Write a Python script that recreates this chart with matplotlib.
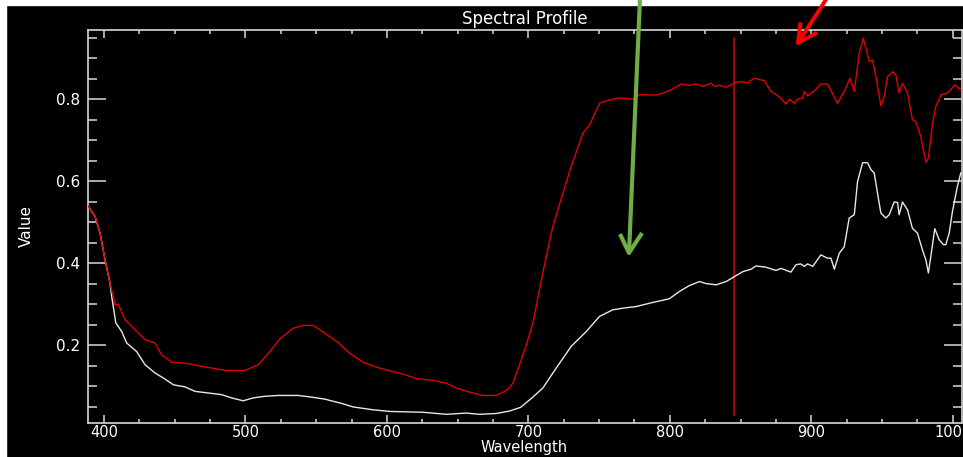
import matplotlib
matplotlib.use("Agg")
import matplotlib.pyplot as plt
from matplotlib.lines import Line2D
from matplotlib.ticker import MultipleLocator

# ---- data ----
red_wl = [388.5, 393.6, 397.2, 400.7, 404.2, 407.8, 410.1, 414.8, 421.9, 429.0,
          436.0, 440.7, 447.8, 457.2, 466.0, 476.0, 485.5, 499.6, 509.0, 517.2,
          524.3, 533.7, 540.8, 547.8, 556.0, 565.5, 573.7, 583.1, 592.6, 602.0,
          611.4, 620.8, 632.6, 642.0, 649.1, 658.5, 667.9, 677.3, 684.4, 689.1,
          694.5, 698.5, 703.2, 710.2, 717.3, 724.4, 730.3, 738.5, 743.2, 750.3,
          757.3, 764.4, 773.8, 778.5, 790.3, 796.2, 800.9, 808.0, 813.8, 818.5,
          823.2, 829.1, 831.5, 835.0, 839.8, 845.6, 849.2, 855.0, 859.7, 866.8,
          871.5, 877.4, 882.1, 884.5, 888.0, 890.3, 893.9, 895.1, 897.4, 902.1,
          906.8, 911.5, 918.6, 923.3, 927.3, 930.4, 933.9, 936.7, 939.8, 941.0,
          943.3, 946.1, 949.2, 951.6, 953.9, 957.5, 959.8, 962.1, 964.5, 968.0,
          971.5, 973.9, 977.4, 981.0, 982.8, 985.7, 988.0, 991.6, 996.2, 1001.5,
          1005.7]
red_val = [0.540, 0.514, 0.473, 0.408, 0.351, 0.298, 0.300, 0.262, 0.237, 0.213,
           0.205, 0.176, 0.158, 0.156, 0.150, 0.144, 0.138, 0.138, 0.152, 0.184,
           0.215, 0.241, 0.248, 0.248, 0.229, 0.206, 0.180, 0.158, 0.146, 0.137,
           0.129, 0.118, 0.114, 0.107, 0.095, 0.085, 0.077, 0.077, 0.089, 0.107,
           0.160, 0.200, 0.254, 0.376, 0.489, 0.571, 0.636, 0.717, 0.737, 0.790,
           0.798, 0.803, 0.800, 0.811, 0.810, 0.816, 0.823, 0.837, 0.834, 0.837,
           0.831, 0.839, 0.831, 0.834, 0.829, 0.839, 0.843, 0.840, 0.851, 0.845,
           0.819, 0.806, 0.788, 0.800, 0.790, 0.800, 0.802, 0.819, 0.808, 0.820,
           0.837, 0.837, 0.790, 0.819, 0.851, 0.819, 0.912, 0.949, 0.908, 0.892,
           0.896, 0.847, 0.784, 0.806, 0.855, 0.867, 0.859, 0.815, 0.839, 0.815,
           0.750, 0.745, 0.709, 0.646, 0.656, 0.741, 0.782, 0.810, 0.815, 0.835,
           0.823]

white_wl = [388.5, 393.6, 397.2, 400.7, 404.2, 405.4, 408.3, 412.5, 416.0, 423.1,
            429.0, 436.0, 443.1, 449.0, 457.2, 464.3, 473.7, 483.1, 490.2, 498.4,
            505.4, 513.7, 523.1, 537.2, 546.7, 556.1, 567.5, 576.1, 590.2, 602.0,
            625.5, 642.0, 656.1, 665.5, 677.3, 686.7, 694.5, 702.5, 710.2, 719.7,
            730.3, 740.9, 750.3, 759.7, 766.8, 776.2, 788.0, 799.7, 806.8, 813.8,
            820.9, 825.6, 832.7, 839.8, 845.6, 851.5, 857.4, 860.9, 868.0, 875.0,
            878.6, 885.6, 889.2, 892.5, 895.1, 897.4, 901.0, 906.8, 911.5, 913.9,
            916.3, 919.8, 923.3, 926.8, 930.4, 932.7, 936.3, 939.8, 942.2, 944.5,
            946.8, 949.2, 952.7, 955.1, 958.6, 961.0, 962.1, 964.5, 968.0, 971.5,
            975.1, 978.6, 981.0, 982.8, 984.5, 987.3, 990.4, 993.4, 995.1, 997.5,
            999.8, 1003.3, 1005.7]
white_val = [0.540, 0.514, 0.473, 0.408, 0.351, 0.319, 0.254, 0.233, 0.205, 0.184,
             0.152, 0.132, 0.117, 0.103, 0.098, 0.087, 0.083, 0.079, 0.071, 0.064,
             0.071, 0.075, 0.077, 0.077, 0.073, 0.068, 0.058, 0.049, 0.042, 0.038,
             0.036, 0.031, 0.034, 0.031, 0.033, 0.039, 0.048, 0.071, 0.095, 0.144,
             0.197, 0.233, 0.270, 0.286, 0.290, 0.294, 0.304, 0.313, 0.331, 0.345,
             0.355, 0.350, 0.347, 0.355, 0.367, 0.379, 0.385, 0.393, 0.390, 0.382,
             0.387, 0.378, 0.396, 0.398, 0.392, 0.398, 0.392, 0.420, 0.412, 0.412,
             0.385, 0.424, 0.440, 0.510, 0.518, 0.599, 0.645, 0.645, 0.628, 0.620,
             0.571, 0.522, 0.510, 0.518, 0.549, 0.548, 0.518, 0.549, 0.530, 0.485,
             0.473, 0.432, 0.408, 0.376, 0.416, 0.484, 0.457, 0.445, 0.445, 0.473,
             0.526, 0.587, 0.620]

marker_wl = 845.6
marker_range = [0.03, 0.95]

x_major = [400, 500, 600, 700, 800, 900, 1000]
y_major = [0.2, 0.4, 0.6, 0.8]
y_labels = ["0.2", "0.4", "0.6", "0.8"]

W, H = 963, 457
fig = plt.figure(figsize=(W / 100, H / 100), dpi=100, facecolor="black")

# white screenshot border (top and left)
fig.patches.append(plt.Rectangle((0, (H - 5) / H), 1, 5 / H, transform=fig.transFigure,
                                 color="white", zorder=-5))
fig.patches.append(plt.Rectangle((0, 0), 6 / W, 1, transform=fig.transFigure,
                                 color="white", zorder=-5))

left, right, top, bottom = 87.5, 961.5, 29.5, 423
ax = fig.add_axes([left / W, (H - bottom) / H, (right - left) / W, (bottom - top) / H])
ax.set_facecolor("black")
ax.set_xlim(388.3, 1006.2)
ax.set_ylim(0.0098, 0.970)

ax.plot(white_wl, white_val, color="#e8e8e8", lw=1.0, zorder=3)
ax.plot(red_wl, red_val, color="#e00000", lw=1.0, zorder=4)
ax.plot([marker_wl, marker_wl], marker_range, color="#c80000", lw=1.2, zorder=2)

for s in ax.spines.values():
    s.set_color("#d8d8d8")
    s.set_linewidth(1.2)

ax.set_xticks(x_major)
ax.xaxis.set_minor_locator(MultipleLocator(25))
ax.set_yticks(y_major)
ax.set_yticklabels(y_labels)
ax.yaxis.set_minor_locator(MultipleLocator(0.05))

ax.tick_params(axis="x", which="major", direction="in", length=6, width=1.1,
               colors="#d8d8d8", labelcolor="white", labelsize=10.5, top=True, pad=1.5)
ax.tick_params(axis="x", which="minor", direction="in", length=3, width=1.1,
               colors="#d8d8d8", top=True)
ax.tick_params(axis="y", which="major", direction="in", length=13, width=1.1,
               colors="#d8d8d8", labelcolor="white", labelsize=11, right=True, pad=5)
ax.tick_params(axis="y", which="minor", direction="in", length=6.5, width=1.1,
               colors="#d8d8d8", right=True)

ax.set_xlabel("Wavelength", color="white", fontsize=10.5, labelpad=0)
ax.set_ylabel("Value", color="white", fontsize=11, labelpad=16)
ax.set_title("Spectral Profile", color="white", fontsize=12, pad=4)


def px_line(xs, ys, color, lw):
    # xs, ys in image pixels measured from top-left
    fig.add_artist(Line2D(xs, [H - y for y in ys], transform=None, color=color,
                          lw=lw, solid_capstyle="butt", zorder=10))


green = "#70AD47"
px_line([640, 629], [-2, 253], green, 3.0)
px_line([620, 629, 642], [234, 253, 233], green, 3.0)

red = "#ff0000"
px_line([827, 798], [-2, 43], red, 2.8)
px_line([800.5, 798, 817], [22.5, 43, 32.5], red, 2.8)

fig.savefig("out.png", dpi=100, facecolor="black")
